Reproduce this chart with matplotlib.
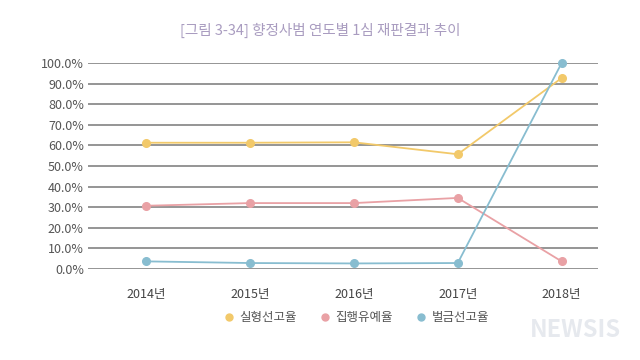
import matplotlib
matplotlib.use("Agg")
import matplotlib.pyplot as plt

plt.rcParams['font.family'] = ['Noto Sans CJK KR', 'DejaVu Sans']

years = ['2014년', '2015년', '2016년', '2017년', '2018년']
series_names = ['실형선고율', '집행유예율', '벌금선고율']
prison = [61.3, 61.3, 61.5, 55.7, 92.7]
probation = [30.7, 32.0, 32.0, 34.5, 3.7]
fine = [3.7, 2.9, 2.7, 2.9, 100.0]
yticks = [0, 10, 20, 30, 40, 50, 60, 70, 80, 90, 100]
colors = ['#f2c96a', '#e9a1a5', '#88bdd0']

fig = plt.figure(figsize=(6.4, 3.6), dpi=100)
ax = fig.add_axes([88/640, 1-269/360, (598-88)/640, (269-63)/360])

for i in yticks:
    ax.axhline(i, color='#8c8c8c', lw=1.3, zorder=1)

x = list(range(len(years)))
for vals, c, name in zip([prison, probation, fine], colors, series_names):
    ax.plot(x, vals, color=c, lw=1.3, marker='o', ms=5.5, label=name, zorder=3, clip_on=False)

ax.set_xlim(-0.56, 4.35)
ax.set_ylim(0, 100)
ax.set_yticks(yticks)
ax.set_yticklabels([f'{v:.1f}%' for v in yticks], fontsize=9, color='#555555')
ax.set_xticks(x)
ax.set_xticklabels(years, fontsize=9, color='#444444')
ax.tick_params(axis='both', length=0)
ax.tick_params(axis='y', pad=3)
ax.tick_params(axis='x', pad=14)
for s in ax.spines.values():
    s.set_visible(False)

fig.text(0.5, 1-30/360, '[그림 3-34] 향정사범 연도별 1심 재판결과 추이', ha='center', va='center',
         fontsize=10.5, color='#a99cc0')

leg = fig.legend(loc='center', bbox_to_anchor=(357/640, 1-318/360), ncol=3, frameon=False,
                 fontsize=9, handlelength=0.6, handletextpad=0.5, columnspacing=2.0)
for h in leg.legend_handles:
    h.set_linestyle('')
    h.set_markersize(5)
for t in leg.get_texts():
    t.set_color('#555555')

fig.text(0.97, 1-330/360, 'NEWSIS', ha='right', va='center', fontsize=17, fontstyle='italic',
         fontweight='bold', color='#e6e9ee')

fig.savefig('out.png', dpi=100)
